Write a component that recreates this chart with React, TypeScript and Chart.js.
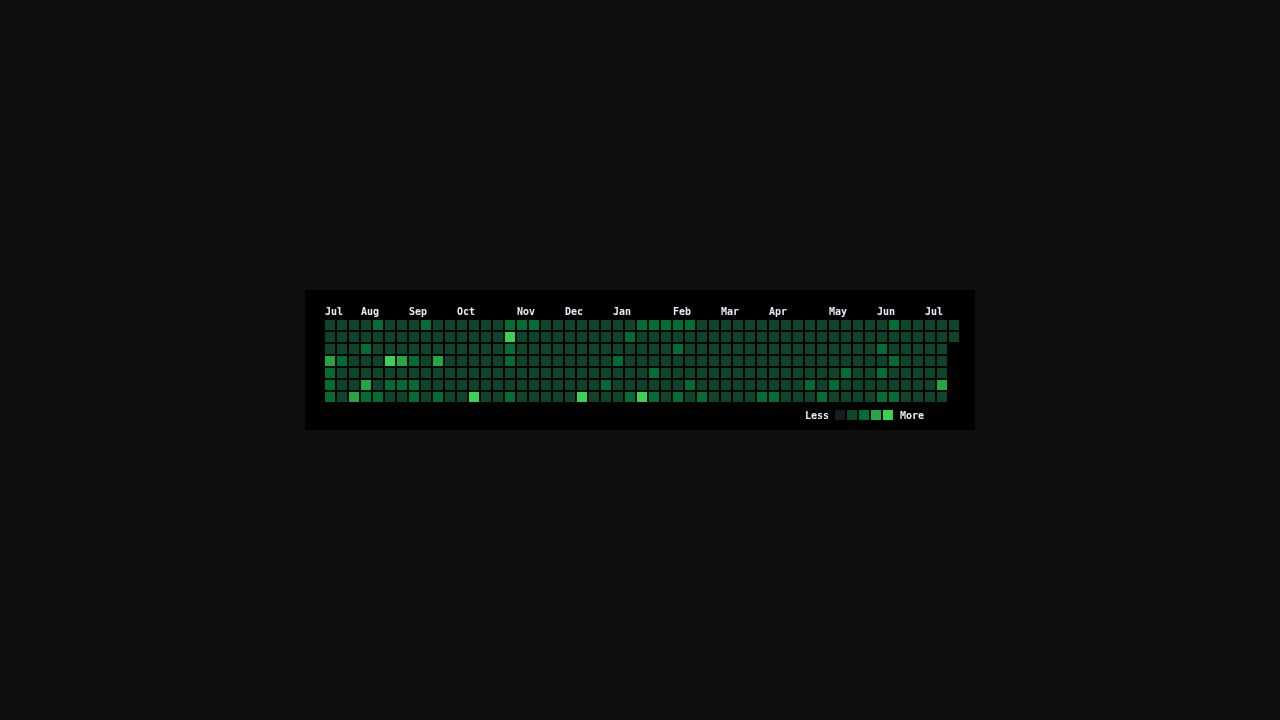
import { useEffect, useRef } from "react";
import { Chart, registerables } from "chart.js";

Chart.register(...registerables);

// Month labels and the week column where each starts
const monthLabels = ["Jul", "Aug", "Sep", "Oct", "Nov", "Dec", "Jan", "Feb", "Mar", "Apr", "May", "Jun", "Jul"];
const monthWeeks = [0, 3, 7, 11, 16, 20, 24, 29, 33, 37, 42, 46, 50];

// Contribution level (0-4) per week, one array per weekday row (Sun..Sat)
const sunLevels = [1,1,1,1,2,1,1,1,2,1, 1,1,1,1,1,2,2,2,1,1, 1,1,1,1,1,1,2,2,2,2, 2,1,1,1,1,1,1,1,1,1, 1,1,1,1,1,1,1,2,1,1, 1,1,1];
const monLevels = [1,1,1,1,1,1,1,1,1,1, 1,1,1,1,1,4,1,1,1,1, 1,1,1,1,1,2,1,1,1,1, 1,1,1,1,1,1,1,1,1,1, 1,1,1,1,1,1,1,1,1,1, 1,1,1];
const tueLevels = [1,1,1,2,1,1,1,1,1,1, 1,1,1,1,1,2,1,1,1,1, 1,1,1,1,1,1,1,1,1,2, 1,1,1,1,1,1,1,1,1,1, 1,1,1,1,1,1,2,1,1,1, 1,1];
const wedLevels = [3,2,1,1,1,4,3,2,1,3, 1,1,1,1,1,2,1,1,1,1, 1,1,1,1,2,1,1,1,1,1, 1,1,1,1,1,1,1,1,1,1, 1,1,1,1,1,1,1,2,1,1, 1,1];
const thuLevels = [2,1,1,1,1,1,1,1,1,1, 1,1,1,1,1,1,1,1,1,1, 1,1,1,1,1,1,1,2,1,1, 1,1,1,1,1,1,1,1,1,1, 1,1,1,2,1,1,2,1,1,1, 1,1];
const friLevels = [2,1,1,3,1,2,2,2,1,1, 1,1,1,1,1,1,1,1,1,1, 1,1,1,2,1,1,1,1,1,1, 2,1,1,1,1,1,1,1,1,1, 2,1,2,1,1,1,1,1,1,1, 1,3];
const satLevels = [2,1,3,2,2,1,1,2,1,2, 1,1,4,1,1,2,1,1,1,1, 1,4,1,1,1,2,4,2,1,2, 1,2,1,1,1,1,2,2,1,1, 1,2,1,1,1,1,2,2,1,1, 1,1];

const weekdayRows = [sunLevels, monLevels, tueLevels, wedLevels, thuLevels, friLevels, satLevels];

const levelColors = ["#161b22", "#0e4429", "#006d32", "#26a641", "#39d353"];
const legendLevels = [0, 1, 2, 3, 4];

export default function App() {
  const canvasRef = useRef<HTMLCanvasElement>(null);

  useEffect(() => {
    if (!canvasRef.current) return;
    const points: { x: number; y: number; v: number }[] = [];
    weekdayRows.forEach((row, day) => {
      row.forEach((lvl, week) => points.push({ x: week, y: day, v: lvl }));
    });

    const labelsPlugin = {
      id: "heatLabels",
      afterDraw(chart: any) {
        const { ctx, chartArea, scales } = chart;
        ctx.save();
        ctx.font = "bold 10px 'DejaVu Sans Mono'";
        ctx.fillStyle = "#e6edf3";
        ctx.textBaseline = "alphabetic";
        ctx.textAlign = "left";
        monthLabels.forEach((m, i) => {
          const x = scales.x.getPixelForValue(monthWeeks[i]) - 5;
          ctx.fillText(m, x, chartArea.top - 4);
        });
        const sq = 10;
        const step = 12;
        const lx = chartArea.right - 125;
        const ly = chartArea.bottom + 7;
        ctx.fillText("Less", lx - 30, ly + 9);
        legendLevels.forEach((l, i) => {
          ctx.fillStyle = levelColors[l];
          ctx.fillRect(lx + i * step, ly, sq, sq);
        });
        ctx.fillStyle = "#e6edf3";
        ctx.fillText("More", lx + legendLevels.length * step + 5, ly + 9);
        ctx.restore();
      },
    };

    const chart = new Chart(canvasRef.current, {
      type: "scatter",
      data: {
        datasets: [
          {
            data: points as any,
            pointStyle: "rect",
            pointRadius: 5 * Math.SQRT2,
            pointHoverRadius: 5 * Math.SQRT2,
            pointBorderWidth: 0,
            borderWidth: 0,
            backgroundColor: (c: any) => levelColors[c.raw ? c.raw.v : 0],
          },
        ],
      },
      options: {
        animation: false,
        responsive: false,
        events: [],
        layout: { padding: { left: 19, right: 15, top: 29, bottom: 27 } },
        plugins: { legend: { display: false }, tooltip: { enabled: false } },
        scales: {
          x: { type: "linear", min: -0.5, max: 52.5, display: false },
          y: { type: "linear", min: -0.5, max: 6.5, reverse: true, display: false },
        },
      },
      plugins: [labelsPlugin],
    });
    return () => chart.destroy();
  }, []);

  return (
    <div style={{ position: "fixed", left: 0, top: 0, width: 1280, height: 720, background: "#0e0e0e" }}>
      <div style={{ position: "absolute", left: 305, top: 290, width: 670, height: 140, background: "#000" }}>
        <canvas ref={canvasRef} width={670} height={140} style={{ display: "block", width: 670, height: 140 }} />
      </div>
    </div>
  );
}
